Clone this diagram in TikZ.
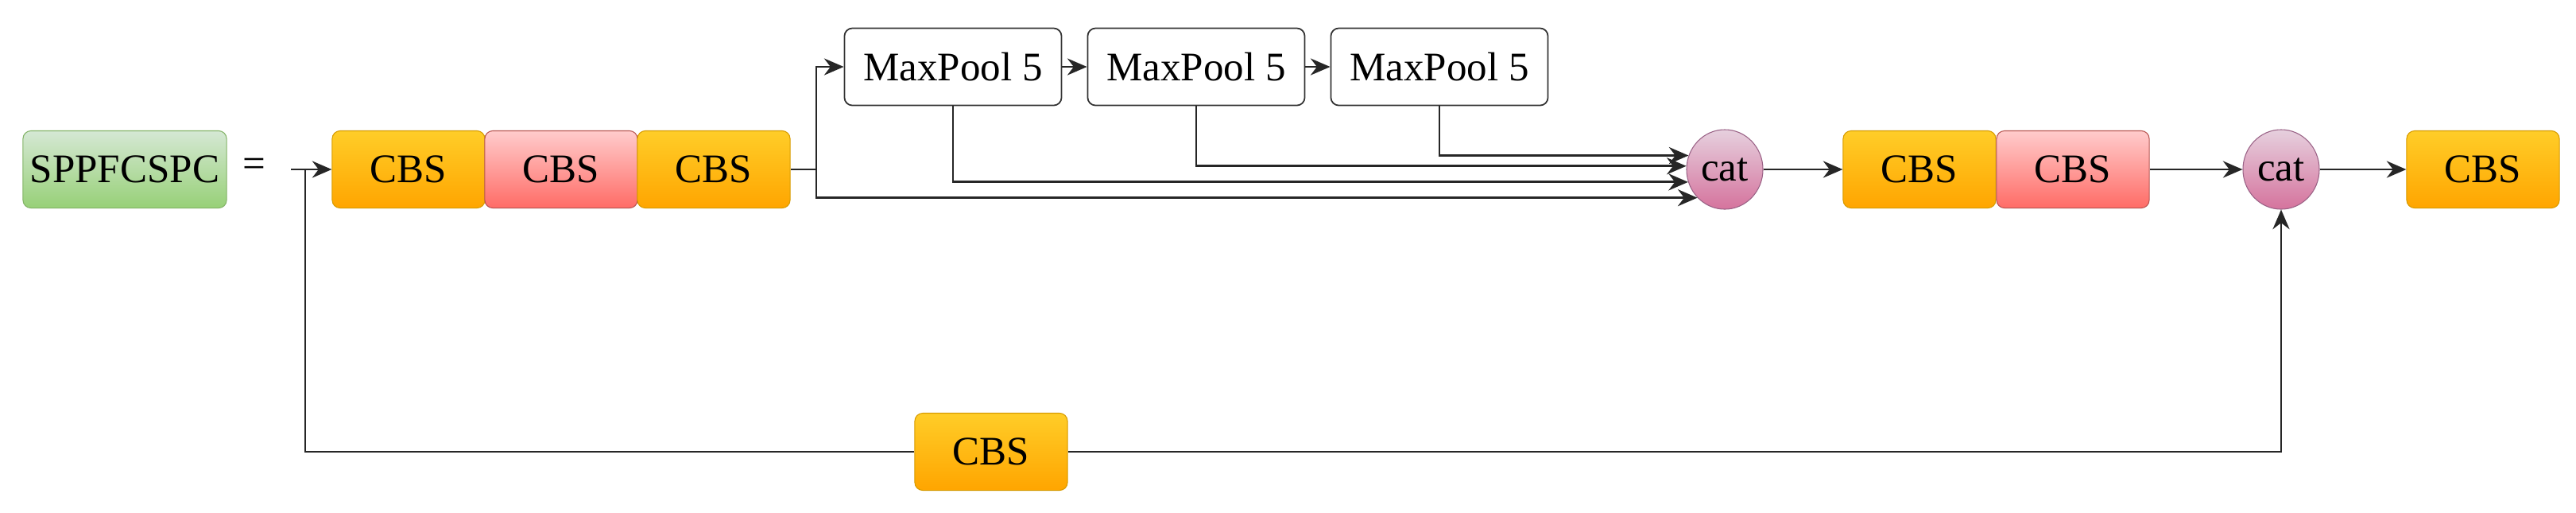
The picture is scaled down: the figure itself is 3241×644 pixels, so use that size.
\documentclass[tikz,border=0pt]{standalone}
\usepackage{fontspec}
\setmainfont{Liberation Serif}
\usetikzlibrary{arrows.meta,shapes.geometric}
\definecolor{oT}{HTML}{FFCD28}\definecolor{oB}{HTML}{FFA500}\definecolor{oS}{HTML}{D79B00}
\definecolor{rT}{HTML}{FFCCCC}\definecolor{rB}{HTML}{FF6B66}\definecolor{rS}{HTML}{B85450}
\definecolor{gT}{HTML}{D5E8D4}\definecolor{gB}{HTML}{97D077}\definecolor{gS}{HTML}{82B366}
\definecolor{pT}{HTML}{E6D0DE}\definecolor{pB}{HTML}{D5739D}\definecolor{pS}{HTML}{996185}
\tikzset{
 box/.style={rectangle,rounded corners=0.1cm,minimum height=0.97cm,inner sep=0pt,font=\fontsize{14.5}{16}\selectfont},
 cbs/.style={box,minimum width=1.92cm,draw=oS,line width=0.3pt,top color=oT,bottom color=oB},
 cbsr/.style={box,minimum width=1.92cm,draw=rS,line width=0.3pt,top color=rT,bottom color=rB},
 mp/.style={box,minimum width=2.73cm,draw=black!80,line width=0.5pt,fill=white},
 cat/.style={ellipse,minimum width=0.96cm,minimum height=1.0cm,inner sep=0pt,draw=pS,line width=0.3pt,top color=pT,bottom color=pB,font=\fontsize{14.5}{16}\selectfont},
 ln/.style={line width=0.8pt,black!85},
 ar/.style={ln,-{Stealth[length=7pt,width=6pt]}}
}
\begin{document}
\begin{tikzpicture}[x=0.01cm,y=-0.01cm]
\useasboundingbox (0,0) rectangle (3241,644);
\node[box,minimum width=2.56cm,draw=gS,line width=0.3pt,top color=gT,bottom color=gB] (sp) at (157,213) {SPPFCSPC};
\node[font=\fontsize{14.5}{16}\selectfont] (eq) at (320,211) {=};
\coordinate (in) at (366,213);
\coordinate (j0) at (384,213);
\node[cbs] (c1) at (514,213) {CBS};
\node[cbsr] (c2) at (706,213) {CBS};
\node[cbs] (c3) at (898,213) {CBS};
\coordinate (j1) at (1027,213);
\node[mp] (m1) at (1199,84) {MaxPool 5};
\node[mp] (m2) at (1505,84) {MaxPool 5};
\node[mp] (m3) at (1811,84) {MaxPool 5};
\node[cat] (k1) at (2170,213) {cat};
\node[cbs] (c4) at (2415,213) {CBS};
\node[cbsr] (c5) at (2608,213) {CBS};
\node[cat] (k2) at (2870,213) {cat};
\node[cbs] (c6) at (3124,213) {CBS};
\node[cbs] (cb) at (1247,568) {CBS};
\draw[ar] (in) -- (c1);
\draw[ln] (j0) |- (cb.west);
\draw[ln] (c3.east) -- (j1);
\draw[ar] (j1) |- (m1.west);
\draw[ar] (j1) |- (k1.226);
\draw[ar] (m1) -- (m2);
\draw[ar] (m2) -- (m3);
\draw[ar] (m1.south) |- (k1.199);
\draw[ar] (m2.south) |- (k1.175);
\draw[ar] (m3.south) |- (k1.159);
\draw[ar] (k1) -- (c4);
\draw[ar] (c5) -- (k2);
\draw[ar] (k2) -- (c6);
\draw[ar] (cb.east) -| (k2.south);
\end{tikzpicture}
\end{document}
